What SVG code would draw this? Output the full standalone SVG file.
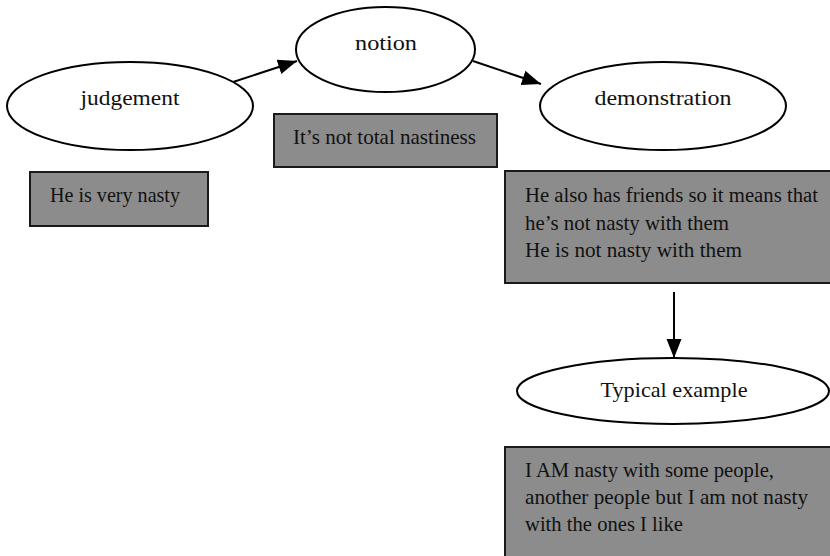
<svg xmlns="http://www.w3.org/2000/svg" width="830" height="556" viewBox="0 0 830 556">
  <style>
    .bubble { fill: #ffffff; stroke: #000000; stroke-width: 2; }
    .note { fill: #8c8c8c; stroke: #1a1a1a; stroke-width: 2; }
    .label { font-family: "Liberation Serif", "Times New Roman", serif; font-size: 21px; fill: #111111; }
    .long { font-size: 20px; }
    .link { stroke: #000000; stroke-width: 2; fill: none; }
  </style>
  <defs>
    <marker id="head" markerUnits="userSpaceOnUse" markerWidth="20" markerHeight="16" refX="19" refY="7.5" orient="auto">
      <path d="M0,0 L19,7.5 L0,15 z" fill="#000000"/>
    </marker>
  </defs>
  <rect width="830" height="556" fill="#ffffff"/>

  <g id="connectors">
    <line class="link" x1="230" y1="83" x2="297" y2="61" marker-end="url(#head)"/>
    <line class="link" x1="473" y1="61" x2="541" y2="84" marker-end="url(#head)"/>
    <line class="link" x1="674" y1="292" x2="674" y2="358" marker-end="url(#head)"/>
  </g>

  <g id="judgement">
    <ellipse class="bubble" cx="130" cy="106" rx="123" ry="44"/>
    <text class="label" x="130" y="105" text-anchor="middle" textLength="99" lengthAdjust="spacingAndGlyphs">judgement</text>
  </g>
  <g id="judgement-note">
    <rect class="note" x="30" y="172" width="178" height="54"/>
    <text class="label" x="50" y="202" textLength="130" lengthAdjust="spacingAndGlyphs">He is very nasty</text>
  </g>

  <g id="notion">
    <ellipse class="bubble" cx="385.5" cy="49.5" rx="89.5" ry="42.5"/>
    <text class="label" x="386" y="50" text-anchor="middle" textLength="62" lengthAdjust="spacingAndGlyphs">notion</text>
  </g>
  <g id="notion-note">
    <rect class="note" x="274" y="114" width="223" height="53"/>
    <text class="label" x="293" y="144" textLength="183" lengthAdjust="spacingAndGlyphs">It’s not total nastiness</text>
  </g>

  <g id="demonstration">
    <ellipse class="bubble" cx="663" cy="106" rx="123" ry="44"/>
    <text class="label" x="663" y="105" text-anchor="middle" textLength="137" lengthAdjust="spacingAndGlyphs">demonstration</text>
  </g>
  <g id="demonstration-note">
    <rect class="note" x="505" y="171" width="330" height="112"/>
    <text class="label long" x="525" y="202" textLength="293" lengthAdjust="spacingAndGlyphs">He also has friends so it means that</text>
    <text class="label" x="525" y="230" textLength="204" lengthAdjust="spacingAndGlyphs">he’s not nasty with them</text>
    <text class="label" x="525" y="257" textLength="217" lengthAdjust="spacingAndGlyphs">He is not nasty with them</text>
  </g>

  <g id="typical-example">
    <ellipse class="bubble" cx="673" cy="391" rx="156" ry="33"/>
    <text class="label" x="674" y="397" text-anchor="middle" textLength="147" lengthAdjust="spacingAndGlyphs">Typical example</text>
  </g>
  <g id="typical-example-note">
    <rect class="note" x="505" y="447" width="330" height="120"/>
    <text class="label" x="525" y="477" textLength="249" lengthAdjust="spacingAndGlyphs">I AM nasty with some people,</text>
    <text class="label" x="525" y="504" textLength="283" lengthAdjust="spacingAndGlyphs">another people but I am not nasty</text>
    <text class="label" x="525" y="531" textLength="158" lengthAdjust="spacingAndGlyphs">with the ones I like</text>
  </g>
</svg>
